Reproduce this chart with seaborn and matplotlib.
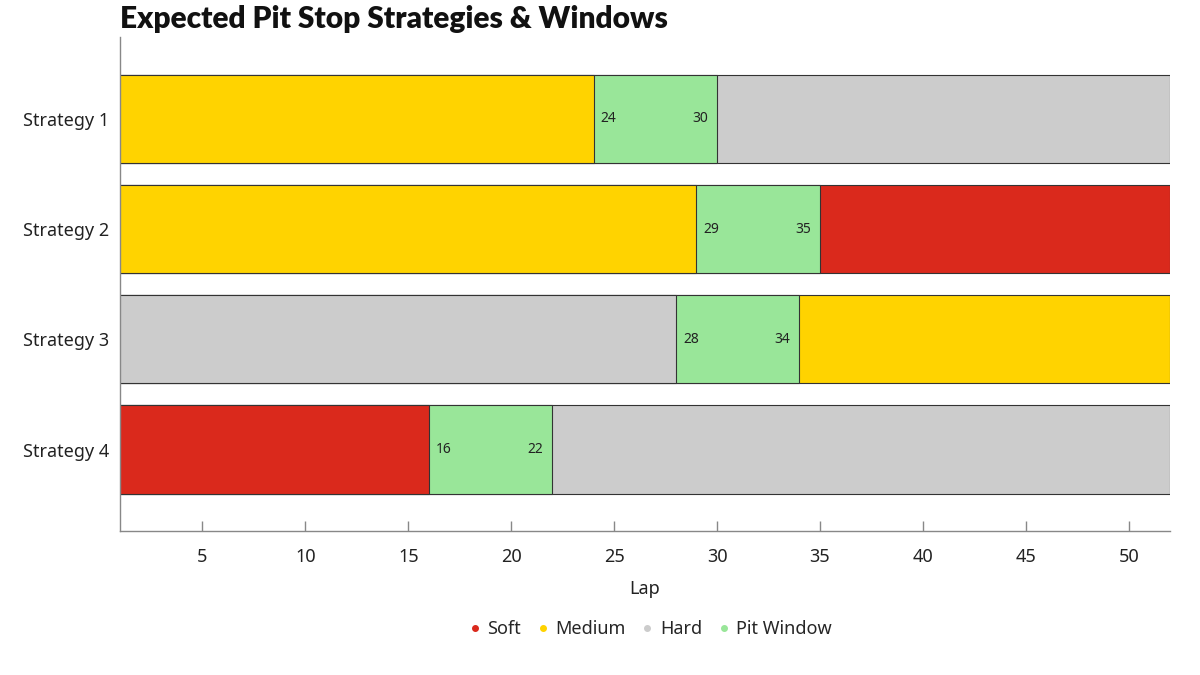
import matplotlib
matplotlib.use("Agg")
import matplotlib.pyplot as plt
from matplotlib.lines import Line2D
import seaborn as sns
import pandas as pd

# data
strategies = ["Strategy 1", "Strategy 2", "Strategy 3", "Strategy 4"]
first_compound = ["Medium", "Medium", "Hard", "Soft"]
pit_open = [24, 29, 28, 16]
pit_close = [30, 35, 34, 22]
second_compound = ["Hard", "Soft", "Medium", "Hard"]
race_laps = 52
start_lap = 1

colors = {"Soft": "#DA291C", "Medium": "#FFD300", "Hard": "#CCCCCC", "Pit Window": "#99E699"}
legend_order = ["Soft", "Medium", "Hard", "Pit Window"]

df = pd.DataFrame({
    "strategy": strategies,
    "first": first_compound,
    "pit_open": pit_open,
    "pit_close": pit_close,
    "second": second_compound,
    "end": [race_laps] * len(strategies),
    "pit": ["Pit Window"] * len(strategies),
})

sns.set_theme(style="white")
plt.rcParams["font.family"] = ["Noto Sans", "DejaVu Sans"]

fig = plt.figure(figsize=(12, 6.75), dpi=100)
ax = fig.add_axes([0.1, 0.213, 0.875, 0.732])

# stacked look: draw longest segment first, then cover it
layers = [("end", "second"), ("pit_close", "pit"), ("pit_open", "first")]
for xcol, huecol in layers:
    sns.barplot(data=df, x=xcol, y="strategy", hue=huecol, palette=colors, saturation=1,
                dodge=False, width=0.8, edgecolor="#333333", linewidth=0.8,
                legend=False, ax=ax, order=strategies)

for i, row in df.iterrows():
    ax.text(row["pit_open"] + 0.35, i, str(row["pit_open"]), va="center", ha="left", fontsize=10, color="#222222")
    ax.text(row["pit_close"] - 0.45, i, str(row["pit_close"]), va="center", ha="right", fontsize=10, color="#222222")

ax.set_xlim(start_lap, race_laps)
ax.set_ylim(3.74, -0.74)
ax.set_xticks([5, 10, 15, 20, 25, 30, 35, 40, 45, 50])
ax.set_xlabel("Lap", fontsize=13, color="#222222", labelpad=10)
ax.set_ylabel("")
ax.tick_params(axis="x", bottom=True, direction="in", length=7, width=1, color="#888888",
               labelsize=13, labelcolor="#222222", pad=12)
ax.tick_params(axis="y", left=False, length=0, labelsize=13, labelcolor="#222222", pad=8)
for s in ["top", "right"]:
    ax.spines[s].set_visible(False)
for s in ["left", "bottom"]:
    ax.spines[s].set_color("#888888")
    ax.spines[s].set_linewidth(1)

handles = [Line2D([0], [0], marker="o", linestyle="", markersize=4, color=colors[k], label=k) for k in legend_order]
fig.legend(handles=handles, loc="center", bbox_to_anchor=(0.54, 0.068), ncol=4, frameon=False,
           fontsize=13, handletextpad=0.1, columnspacing=0.6, handlelength=1.2)

fig.text(0.1, 0.972, "Expected Pit Stop Strategies & Windows", fontsize=21.5, fontweight="heavy",
         family=["Lato", "DejaVu Sans"], va="center", ha="left", color="#111111")

fig.savefig("out.png", dpi=100)
